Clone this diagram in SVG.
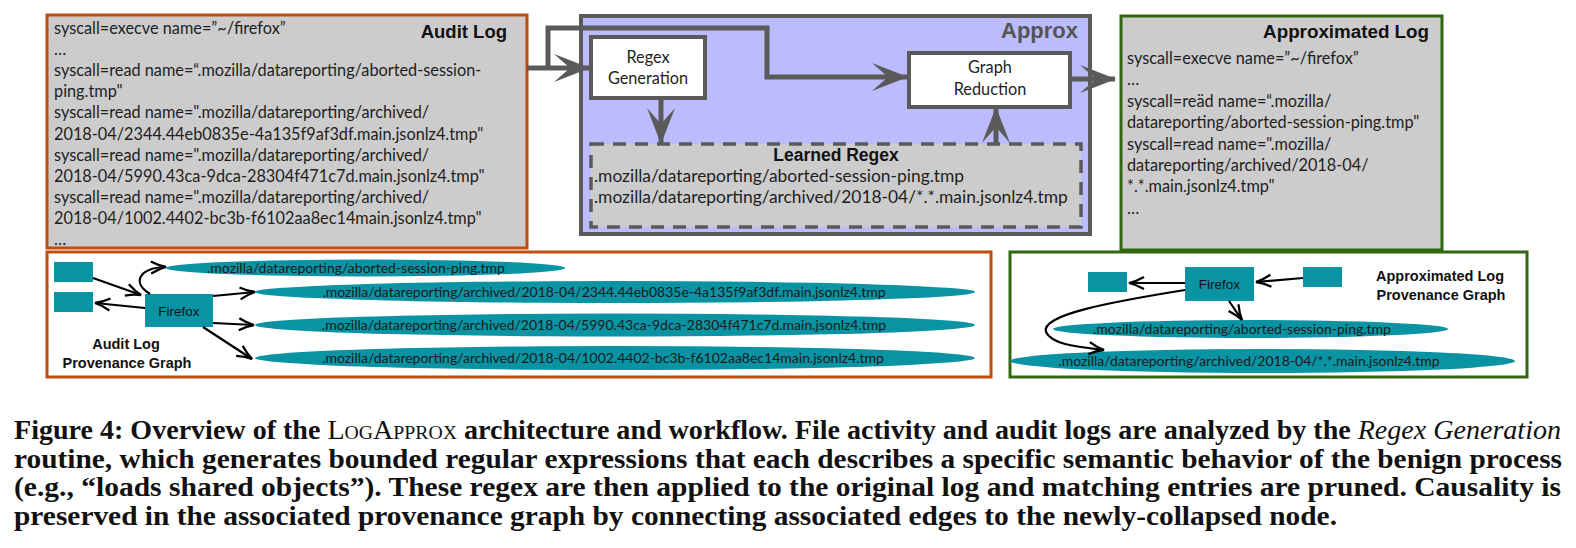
<svg xmlns="http://www.w3.org/2000/svg" width="1576" height="548" viewBox="0 0 1576 548">
<style>
.log{font-family:Lato,"Noto Sans",sans-serif;font-size:16.3px;fill:#1e1e1e}
.rx{font-family:Lato,"Noto Sans",sans-serif;font-size:17.4px;fill:#1e1e1e}
.hd{font-family:"Liberation Sans",Arial,sans-serif;font-weight:bold;fill:#111}
.lbl{font-family:Lato,"Noto Sans",sans-serif;font-size:16.3px;fill:#1e1e1e;text-anchor:middle}
.gt{font-family:Lato,"Noto Sans",sans-serif;font-size:14px;fill:#1a1a1a;text-anchor:middle}
.ff{font-family:"Liberation Sans",Arial,sans-serif;font-size:13.5px;fill:#111;text-anchor:middle}
.teal{fill:#0a93a3}
.gl{fill:none;stroke:#5a5a5a;stroke-width:5;stroke-linejoin:miter}
.bl{fill:none;stroke:#000;stroke-width:2.2}
.cap{font-family:"Liberation Serif","Times New Roman",serif;font-size:27px;font-weight:bold;fill:#111}
</style>
<defs>
<marker id="ga" markerUnits="userSpaceOnUse" markerWidth="36" markerHeight="30" viewBox="0 0 36 30" refX="35" refY="15" orient="auto">
<path d="M0,1 L36,15 L0,29 L16,15 Z" fill="#5a5a5a"/>
</marker>
<marker id="ba" markerUnits="userSpaceOnUse" markerWidth="17" markerHeight="15" viewBox="0 0 17 15" refX="16" refY="7.5" orient="auto">
<path d="M1,1.5 Q9,6 16,7.5 Q9,9 1,13.5" fill="none" stroke="#000" stroke-width="2.3"/>
</marker>
</defs>

<g id="audit-log">
<rect x="47" y="15" width="480" height="233" fill="#cccccc" stroke="#bb4e0e" stroke-width="3"/>
<text class="hd" x="507" y="38" font-size="18.5" text-anchor="end">Audit Log</text>
<text class="log" x="54" y="34">syscall=execve name=”~/firefox”</text>
<text class="log" x="54" y="55.1">…</text>
<text class="log" x="54" y="76.2">syscall=read name=“.mozilla/datareporting/aborted-session-</text>
<text class="log" x="54" y="97.3">ping.tmp"</text>
<text class="log" x="54" y="118.4">syscall=read name=".mozilla/datareporting/archived/</text>
<text class="log" x="54" y="139.5">2018-04/2344.44eb0835e-4a135f9af3df.main.jsonlz4.tmp"</text>
<text class="log" x="54" y="160.6">syscall=read name=".mozilla/datareporting/archived/</text>
<text class="log" x="54" y="181.7">2018-04/5990.43ca-9dca-28304f471c7d.main.jsonlz4.tmp"</text>
<text class="log" x="54" y="202.8">syscall=read name=".mozilla/datareporting/archived/</text>
<text class="log" x="54" y="223.9">2018-04/1002.4402-bc3b-f6102aa8ec14main.jsonlz4.tmp"</text>
<text class="log" x="54" y="245">…</text>
</g>

<g id="approx">
<rect x="581" y="16" width="509" height="218" fill="#bbbbfd" stroke="#5a5a5a" stroke-width="4"/>
<text class="hd" x="1078" y="38" font-size="22" text-anchor="end" style="fill:#555">Approx</text>
</g>

<g id="regex-generation">
<rect x="591" y="37" width="114" height="61" fill="#fff" stroke="#5a5a5a" stroke-width="4"/>
<text class="lbl" x="648" y="63">Regex</text>
<text class="lbl" x="648" y="84">Generation</text>
</g>

<g id="graph-reduction">
<rect x="909" y="53" width="161" height="54" fill="#fff" stroke="#5a5a5a" stroke-width="4"/>
<text class="lbl" x="990" y="73">Graph</text>
<text class="lbl" x="990" y="95">Reduction</text>
</g>

<g id="learned-regex">
<rect x="591" y="144" width="490" height="83" fill="#cccccc" stroke="#5a5a5a" stroke-width="3.5" stroke-dasharray="13 9"/>
<text class="hd" x="836" y="161" font-size="17.5" text-anchor="middle">Learned Regex</text>
<text class="rx" x="594" y="182">.mozilla/datareporting/aborted-session-ping.tmp</text>
<text class="rx" x="594" y="203">.mozilla/datareporting/archived/2018-04/*.*.main.jsonlz4.tmp</text>
</g>

<g id="approximated-log">
<rect x="1121" y="16" width="321" height="234" fill="#cccccc" stroke="#336611" stroke-width="3"/>
<text class="hd" x="1429" y="38" font-size="18.8" text-anchor="end">Approximated Log</text>
<text class="log" x="1127" y="64">syscall=execve name=”~/firefox”</text>
<text class="log" x="1127" y="85.4">…</text>
<text class="log" x="1127" y="106.8">syscall=reäd name=“.mozilla/</text>
<text class="log" x="1127" y="128.2">datareporting/aborted-session-ping.tmp"</text>
<text class="log" x="1127" y="149.6">syscall=read name=".mozilla/</text>
<text class="log" x="1127" y="171">datareporting/archived/2018-04/</text>
<text class="log" x="1127" y="192.4">*.*.main.jsonlz4.tmp"</text>
<text class="log" x="1127" y="213.8">…</text>
</g>

<g id="audit-provenance-graph">
<rect x="47" y="252" width="944" height="125" fill="#fff" stroke="#bb4e0e" stroke-width="3"/>
<text class="hd" x="126" y="349" font-size="14.5" text-anchor="middle">Audit Log</text>
<text class="hd" x="127" y="368" font-size="14.5" text-anchor="middle">Provenance Graph</text>
</g>
<g id="a-node1"><rect class="teal" x="54" y="262" width="39" height="20"/></g>
<g id="a-node2"><rect class="teal" x="54" y="292" width="39" height="20"/></g>
<g id="a-firefox"><rect class="teal" x="145" y="294" width="68" height="33"/><text class="ff" x="179" y="315.5">Firefox</text></g>
<g id="a-file1"><ellipse class="teal" cx="365.5" cy="268" rx="199.5" ry="8.5"/><text class="gt" x="356" y="272.5">.mozilla/datareporting/aborted-session-ping.tmp</text></g>
<g id="a-file2"><ellipse class="teal" cx="615" cy="292" rx="360" ry="11"/><text class="gt" x="604" y="297">.mozilla/datareporting/archived/2018-04/2344.44eb0835e-4a135f9af3df.main.jsonlz4.tmp</text></g>
<g id="a-file3"><ellipse class="teal" cx="615" cy="325" rx="360" ry="11.5"/><text class="gt" x="604" y="330">.mozilla/datareporting/archived/2018-04/5990.43ca-9dca-28304f471c7d.main.jsonlz4.tmp</text></g>
<g id="a-file4"><ellipse class="teal" cx="615" cy="358" rx="360" ry="12"/><text class="gt" x="603" y="363">.mozilla/datareporting/archived/2018-04/1002.4402-bc3b-f6102aa8ec14main.jsonlz4.tmp</text></g>

<g id="approx-provenance-graph">
<rect x="1010" y="252" width="517" height="125" fill="#fff" stroke="#336611" stroke-width="3"/>
<text class="hd" x="1440" y="281" font-size="14.5" text-anchor="middle">Approximated Log</text>
<text class="hd" x="1441" y="300" font-size="14.5" text-anchor="middle">Provenance Graph</text>
</g>
<g id="b-node1"><rect class="teal" x="1088" y="272" width="39" height="20"/></g>
<g id="b-node2"><rect class="teal" x="1303" y="267" width="39" height="20"/></g>
<g id="b-firefox"><rect class="teal" x="1185" y="267" width="69" height="34"/><text class="ff" x="1219.5" y="288.5">Firefox</text></g>
<g id="b-file1"><ellipse class="teal" cx="1250.5" cy="329" rx="197.5" ry="9"/><text class="gt" x="1242" y="334">.mozilla/datareporting/aborted-session-ping.tmp</text></g>
<g id="b-file2"><ellipse class="teal" cx="1262.5" cy="361" rx="252.5" ry="12"/><text class="gt" x="1249" y="366">.mozilla/datareporting/archived/2018-04/*.*.main.jsonlz4.tmp</text></g>

<g id="connectors">
<path class="gl" d="M527,68 H589" marker-end="url(#ga)"/>
<path class="gl" d="M548,68 V28 H767 V77 H907" marker-end="url(#ga)"/>
<path class="gl" d="M661,98 V143" marker-end="url(#ga)"/>
<path class="gl" d="M996,144 V108" marker-end="url(#ga)"/>
<path class="gl" d="M1070,79 H1115" marker-end="url(#ga)"/>
<path class="bl" d="M93,278 L141,295" marker-end="url(#ba)"/>
<path class="bl" d="M145,308 L95,303" marker-end="url(#ba)"/>
<path class="bl" d="M150,294 C132,283 138,268 166,267" marker-end="url(#ba)"/>
<path class="bl" d="M213,296 L255,292" marker-end="url(#ba)"/>
<path class="bl" d="M213,323 L254,325" marker-end="url(#ba)"/>
<path class="bl" d="M203,327 L252,359" marker-end="url(#ba)"/>
<path class="bl" d="M1185,283 L1129,283" marker-end="url(#ba)"/>
<path class="bl" d="M1303,278 L1256,282" marker-end="url(#ba)"/>
<path class="bl" d="M1229,301 L1242,320" marker-end="url(#ba)"/>
<path class="bl" d="M1185,290 C1110,302 1040,315 1046,332 C1052,345 1080,347 1104,350" marker-end="url(#ba)"/>
</g>

<g id="caption">
<text class="cap" x="14" y="439" textLength="1547" lengthAdjust="spacingAndGlyphs">Figure 4: Overview of the <tspan font-weight="normal" font-variant="small-caps">LogApprox</tspan> architecture and workflow. File activity and audit logs are analyzed by the <tspan font-weight="normal" font-style="italic">Regex Generation</tspan></text>
<text class="cap" x="14" y="467.5" textLength="1548" lengthAdjust="spacingAndGlyphs">routine, which generates bounded regular expressions that each describes a specific semantic behavior of the benign process</text>
<text class="cap" x="14" y="496" textLength="1547" lengthAdjust="spacingAndGlyphs">(e.g., “loads shared objects”). These regex are then applied to the original log and matching entries are pruned. Causality is</text>
<text class="cap" x="14" y="524.5" textLength="1323" lengthAdjust="spacingAndGlyphs">preserved in the associated provenance graph by connecting associated edges to the newly-collapsed node.</text>
</g>
</svg>
